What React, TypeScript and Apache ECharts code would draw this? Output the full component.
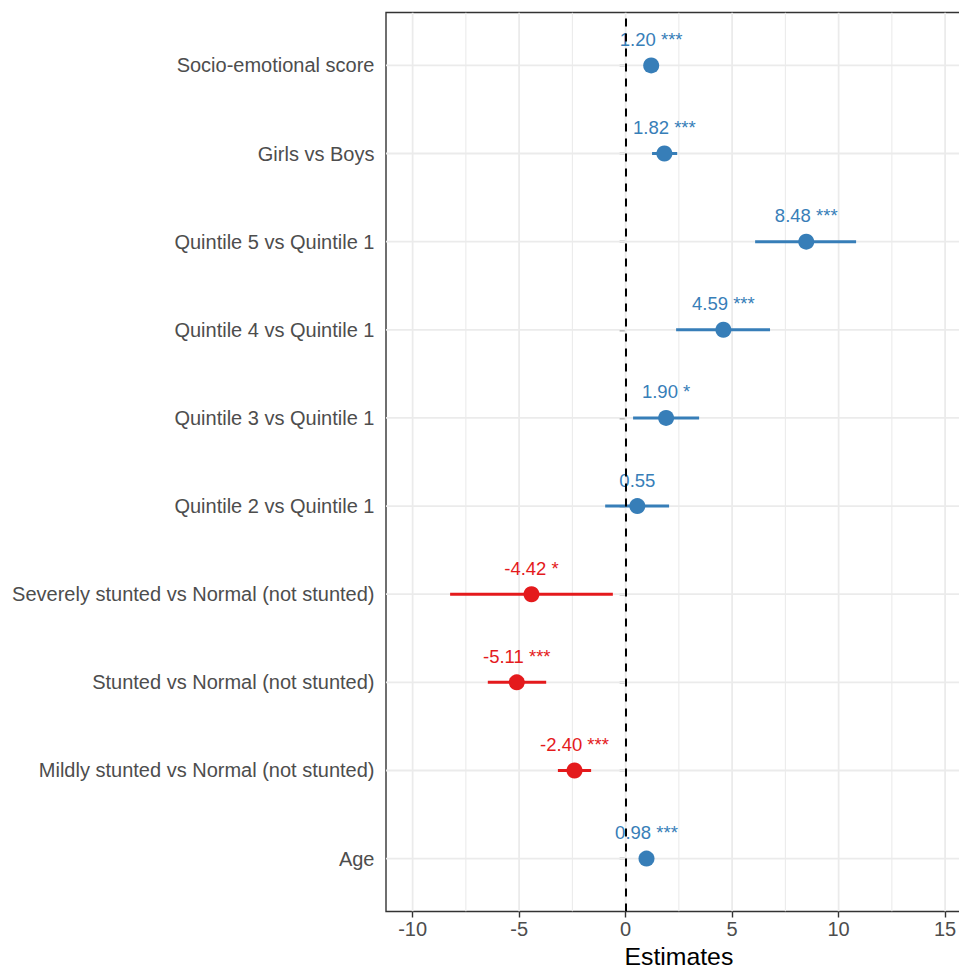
import React, { useEffect, useRef } from "react";
import * as echarts from "echarts";

// Terms from bottom (position 1) to top (position 10)
const terms = [
  "Age",
  "Mildly stunted vs Normal (not stunted)",
  "Stunted vs Normal (not stunted)",
  "Severely stunted vs Normal (not stunted)",
  "Quintile 2 vs Quintile 1",
  "Quintile 3 vs Quintile 1",
  "Quintile 4 vs Quintile 1",
  "Quintile 5 vs Quintile 1",
  "Girls vs Boys",
  "Socio-emotional score",
];
const estimates = [0.98, -2.4, -5.11, -4.42, 0.55, 1.9, 4.59, 8.48, 1.82, 1.2];
const lower = [0.86, -3.18, -6.47, -8.24, -0.96, 0.35, 2.37, 6.08, 1.24, 1.06];
const upper = [1.1, -1.62, -3.73, -0.6, 2.04, 3.45, 6.78, 10.82, 2.42, 1.34];
const stars = ["***", "***", "***", "*", "", "*", "***", "***", "***", "***"];

const xTicks = [-10, -5, 0, 5, 10, 15];
const xMinor = [-7.5, -2.5, 2.5, 7.5, 12.5];
const yTicks = [1, 2, 3, 4, 5, 6, 7, 8, 9, 10];

const BLUE = "#377EB8";
const RED = "#E41A1C";
const FONT = "'Liberation Sans', Arial, Helvetica, sans-serif";

export default function App() {
  const ref = useRef<HTMLDivElement>(null);

  useEffect(() => {
    if (!ref.current) return;
    const chart = echarts.init(ref.current, null, { renderer: "svg" });

    const colorOf = (v: number) => (v < 0 ? RED : BLUE);

    const vGrid = (data: number[], width: number) => ({
      type: "custom",
      silent: true,
      z: 1,
      clip: true,
      data: data.map((v) => [v, 5]),
      encode: { x: 0, y: 1 },
      renderItem: (params: any, api: any) => {
        const cs = params.coordSys;
        const x = api.coord([api.value(0), 5])[0];
        return {
          type: "line",
          shape: { x1: x, y1: cs.y, x2: x, y2: cs.y + cs.height },
          style: { stroke: "#EBEBEB", lineWidth: width },
        };
      },
    });

    const option: any = {
      animation: false,
      backgroundColor: "#FFFFFF",
      textStyle: { fontFamily: FONT },
      grid: {
        left: 386,
        top: 12.5,
        width: 27.5 * 21.3,
        height: 899,
        show: true,
        borderColor: "#333333",
        borderWidth: 1.4,
        backgroundColor: "transparent",
        containLabel: false,
        outerBoundsMode: "none",
      },
      xAxis: {
        type: "value",
        min: -11.25,
        max: 16.25,
        axisLine: { show: false },
        splitLine: { show: false },
        axisTick: {
          show: true,
          customValues: xTicks,
          length: 6,
          lineStyle: { color: "#333333", width: 1.4 },
        },
        axisLabel: {
          customValues: xTicks,
          margin: 7,
          fontSize: 20,
          color: "#4D4D4D",
          fontFamily: FONT,
          formatter: (v: number) => String(Math.round(v)),
        },
        name: "Estimates",
        nameLocation: "middle",
        nameGap: 32,
        nameTextStyle: { fontSize: 24.8, color: "#000000", fontFamily: FONT },
      },
      yAxis: {
        type: "value",
        min: 0.4,
        max: 10.6,
        axisLine: { show: false },
        splitLine: { show: false },
        axisTick: {
          show: true,
          customValues: yTicks,
          length: 6,
          lineStyle: { color: "#333333", width: 1.4 },
        },
        axisLabel: {
          customValues: yTicks,
          margin: 11.5,
          fontSize: 20,
          color: "#4D4D4D",
          fontFamily: FONT,
          formatter: (v: number) => terms[Math.round(v) - 1] ?? "",
        },
      },
      series: [
        vGrid(xMinor, 1.1),
        vGrid(xTicks, 1.8),
        {
          type: "custom",
          silent: true,
          z: 1,
          data: yTicks.map((v) => [0, v]),
          encode: { x: 0, y: 1 },
          renderItem: (params: any, api: any) => {
            const cs = params.coordSys;
            const y = api.coord([0, api.value(1)])[1];
            return {
              type: "line",
              shape: { x1: cs.x, y1: y, x2: cs.x + cs.width, y2: y },
              style: { stroke: "#EBEBEB", lineWidth: 1.8 },
            };
          },
        },
        {
          type: "custom",
          silent: true,
          z: 3,
          data: estimates.map((e, i) => [lower[i], upper[i], i + 1, e]),
          encode: { x: [0, 1], y: 2 },
          renderItem: (params: any, api: any) => {
            const p1 = api.coord([api.value(0), api.value(2)]);
            const p2 = api.coord([api.value(1), api.value(2)]);
            return {
              type: "line",
              shape: { x1: p1[0], y1: p1[1], x2: p2[0], y2: p2[1] },
              style: { stroke: colorOf(api.value(3)), lineWidth: 3 },
            };
          },
        },
        {
          type: "scatter",
          z: 4,
          symbol: "circle",
          symbolSize: 16,
          itemStyle: { opacity: 1 },
          data: estimates.map((e, i) => ({
            value: [e, i + 1],
            itemStyle: { color: colorOf(e), opacity: 1 },
            label: {
              show: true,
              color: colorOf(e),
              formatter: e.toFixed(2) + (stars[i] ? " " + stars[i] : ""),
            },
          })),
          label: {
            show: true,
            position: "inside",
            offset: [0, -26],
            fontSize: 18.5,
            fontFamily: FONT,
          },
          markLine: {
            silent: true,
            symbol: ["none", "none"],
            label: { show: false },
            lineStyle: { color: "#000000", width: 2, type: [8, 7], opacity: 1 },
            data: [{ xAxis: 0 }],
          },
        },
      ],
    };

    chart.setOption(option);
    return () => chart.dispose();
  }, []);

  return (
    <div
      style={{
        position: "absolute",
        left: 0,
        top: 0,
        width: 959,
        height: 969,
        overflow: "hidden",
        background: "#FFFFFF",
      }}
    >
      <div ref={ref} style={{ width: 1000, height: 969 }} />
    </div>
  );
}
